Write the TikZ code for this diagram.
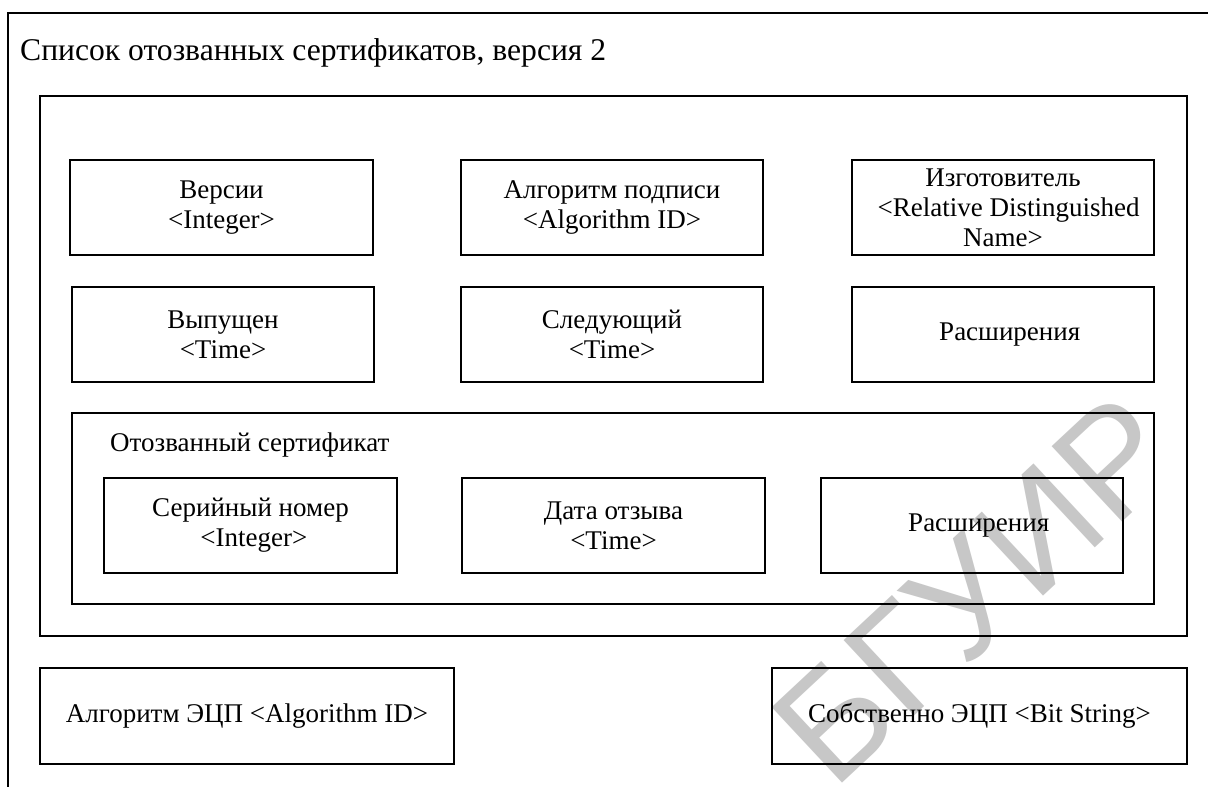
\documentclass[tikz,border=0pt]{standalone}
\usepackage{fontspec}
\setmainfont{Liberation Serif}
\newfontfamily\wmfont{Liberation Sans}
\tikzset{
  field/.style={draw=black, line width=1.2pt, rectangle, inner sep=2pt,
    align=center, font=\fontsize{27}{30}\selectfont},
  frame/.style={draw=black, line width=1.2pt, rectangle, inner sep=0pt},
  caption/.style={font=\fontsize{27}{30}\selectfont, anchor=west, inner sep=0pt},
  heading/.style={font=\fontsize{31.6}{36}\selectfont, anchor=west, inner sep=0pt},
  watermark/.style={text=black!22, font=\fontsize{150}{150}\selectfont\wmfont, rotate=43}
}
\begin{document}
\begin{tikzpicture}[x=1pt, y=-1pt]
  \useasboundingbox (0,0) rectangle (1208,787);
  \fill[white] (0,0) rectangle (1208,787);

  % watermark behind everything
  \node[watermark] (wm) at (975,590) {БГУИР};

  % outer list frame, running off the page
  \coordinate (fbl) at (8,787);
  \coordinate (ftl) at (8,13);
  \coordinate (ftr) at (1208,13);
  \draw[line width=1.2pt] (fbl) -- (ftl) -- (ftr);
  \node[heading] (title) at (20,53) {Список отозванных сертификатов, версия 2};

  % signed part of the list
  \node[frame, minimum width=1147pt, minimum height=540pt] (tbs) at (613.5,366) {};

  \node[field, minimum width=303pt, minimum height=95pt] (ver) at (221.5,207.5) {Версии\\<Integer>};
  \node[field, minimum width=302pt, minimum height=95pt] (alg) at (612,207.5) {Алгоритм подписи\\<Algorithm ID>};
  \node[field, minimum width=302pt, minimum height=95pt] (iss) at (1003,207.5) {Изготовитель\\\ \,<Relative Distinguished\\Name>};

  \node[field, minimum width=302pt, minimum height=95pt] (thu) at (223,334.5) {Выпущен\\<Time>};
  \node[field, minimum width=302pt, minimum height=95pt] (nxt) at (612,334.5) {Следующий\\<Time>};
  \node[field, minimum width=302pt, minimum height=95pt] (ext) at (1003,334.5) {\ \ Расширения};

  % revoked certificate entry
  \node[frame, minimum width=1082pt, minimum height=191pt] (rev) at (613,508.5) {};
  \node[caption] (revcap) at (110,445) {Отозванный сертификат};

  \node[field, minimum width=293pt, minimum height=95pt] (ser) at (250.5,525.5) {Серийный номер\\\ <Integer>};
  \node[field, minimum width=303pt, minimum height=95pt] (rdt) at (613.5,525.5) {Дата отзыва\\<Time>};
  \node[field, minimum width=302pt, minimum height=95pt] (rex) at (972,525.5) {\ \ Расширения};

  % signature fields
  \node[field, minimum width=414pt, minimum height=96pt] (sga) at (247,716) {Алгоритм ЭЦП <Algorithm ID>};
  \node[field, minimum width=415pt, minimum height=96pt] (sgv) at (979.5,716) {Собственно ЭЦП <Bit String>};
\end{tikzpicture}
\end{document}
